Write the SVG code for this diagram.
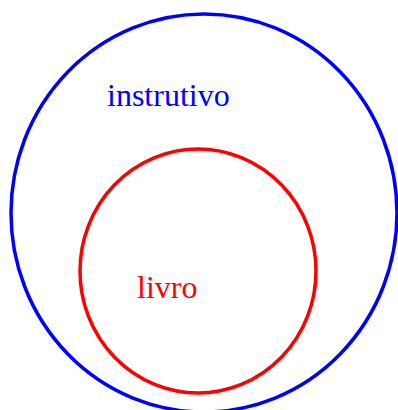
<svg xmlns="http://www.w3.org/2000/svg" width="398" height="410" viewBox="0 0 398 410">
<style>
.lbl{font-family:"Liberation Serif","Times New Roman",serif;font-size:32px}
</style>
<rect width="398" height="410" fill="#fff"/>
<g id="instrutivo">
<ellipse cx="204" cy="213" rx="193" ry="199" fill="none" stroke="#0000ff" stroke-width="3.5"/>
<text class="lbl" x="107" y="106" fill="#0000ff">instrutivo</text>
</g>
<g id="livro">
<ellipse cx="198" cy="271" rx="118" ry="122" fill="none" stroke="#ff0000" stroke-width="3.5"/>
<text class="lbl" x="137" y="298" fill="#ff0000">livro</text>
</g>
<g id="connectors"/>
</svg>
